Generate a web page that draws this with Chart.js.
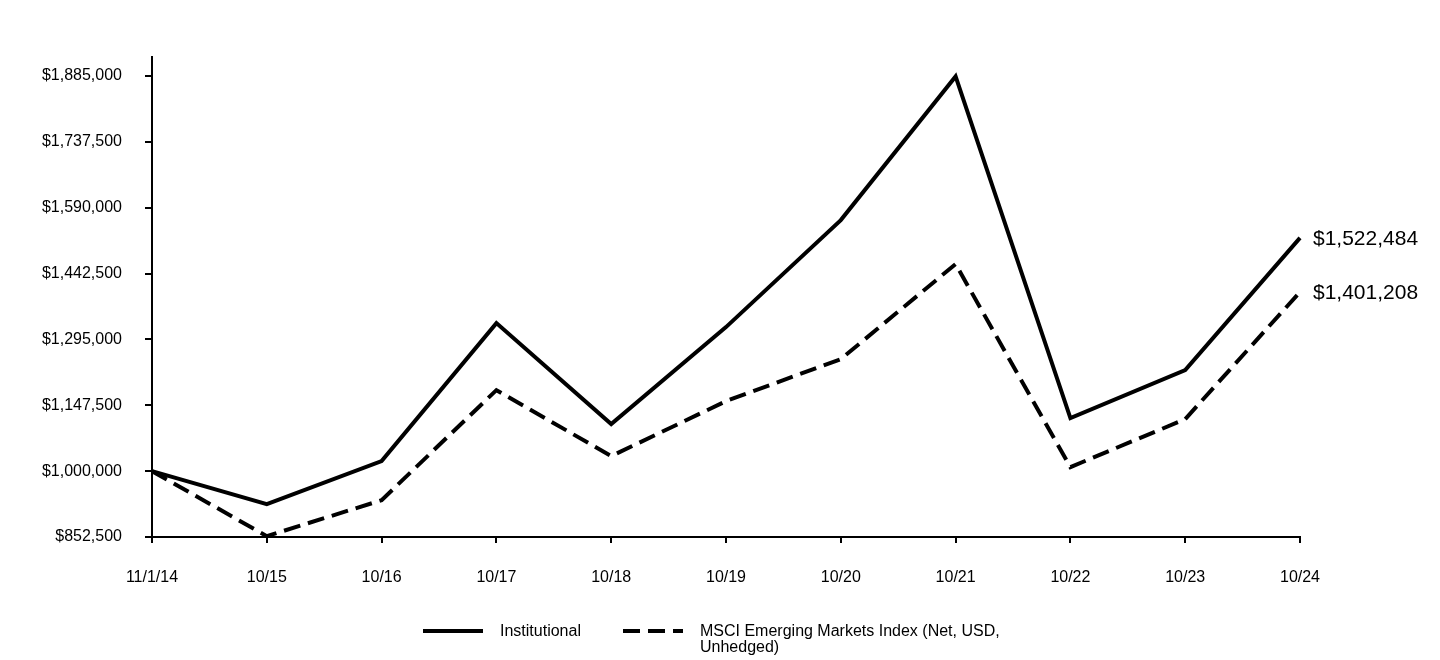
<!DOCTYPE html>
<html>
<head>
<meta charset="utf-8">
<script src="https://cdn.jsdelivr.net/npm/chart.js@4"></script>
<style>
  html, body { margin: 0; padding: 0; background: #fff; }
  #wrap { width: 1440px; height: 660px; position: relative; }
</style>
</head>
<body>
<div id="wrap"><canvas id="chart" width="1440" height="660"></canvas></div>
<script>
const periods = ["11/1/14", "10/15", "10/16", "10/17", "10/18", "10/19", "10/20", "10/21", "10/22", "10/23", "10/24"];
const institutional = [1000000, 926000, 1022400, 1331500, 1105300, 1322600, 1562200, 1884000, 1118700, 1226200, 1522484];
const msciIndex = [1000000, 854400, 935000, 1181400, 1033600, 1156800, 1250900, 1463700, 1009000, 1116500, 1401208];
const yTicks = [852500, 1000000, 1147500, 1295000, 1442500, 1590000, 1737500, 1885000];
const seriesNames = ["Institutional", "MSCI Emerging Markets Index (Net, USD, Unhedged)"];
const legendLines = [["Institutional"], ["MSCI Emerging Markets Index (Net, USD,", "Unhedged)"]];

const fontFamily = "'Liberation Sans', Arial, sans-serif";
const money = v => "$" + Math.round(v).toLocaleString("en-US");

// value labels at the end of each line + legend under the plot
const extrasPlugin = {
    id: "extras",
    afterDraw(chart) {
        const ctx = chart.ctx;
        ctx.save();
        ctx.fillStyle = "#000";
        ctx.font = "21px " + fontFamily;
        ctx.textAlign = "left";
        ctx.textBaseline = "middle";
        chart.data.datasets.forEach((ds, i) => {
            const meta = chart.getDatasetMeta(i);
            const pt = meta.data[meta.data.length - 1];
            ctx.fillText(money(ds.data[ds.data.length - 1]), pt.x + 13, pt.y + 1);
        });

        const starts = [423, 623];
        const y = 631;
        ctx.font = "16px " + fontFamily;
        chart.data.datasets.forEach((ds, i) => {
            ctx.beginPath();
            ctx.lineWidth = 4;
            ctx.strokeStyle = "#000";
            ctx.setLineDash(ds.borderDash || []);
            ctx.moveTo(starts[i], y);
            ctx.lineTo(starts[i] + 60, y);
            ctx.stroke();
            ctx.setLineDash([]);
            legendLines[i].forEach((t, k) => ctx.fillText(t, starts[i] + 77, y + 1 + k * 16));
        });
        ctx.restore();
    }
};

new Chart(document.getElementById("chart"), {
    type: "line",
    data: {
        labels: periods,
        datasets: [
            {
                label: seriesNames[0],
                data: institutional,
                borderColor: "#000",
                borderWidth: 4,
                pointRadius: 0,
                tension: 0,
                fill: false
            },
            {
                label: seriesNames[1],
                data: msciIndex,
                borderColor: "#000",
                borderWidth: 4,
                borderDash: [17, 8],
                pointRadius: 0,
                tension: 0,
                fill: false
            }
        ]
    },
    options: {
        responsive: false,
        animation: false,
        layout: { padding: { left: 0, right: 140, top: 57, bottom: 0 } },
        plugins: {
            legend: { display: false },
            tooltip: { enabled: false }
        },
        scales: {
            x: {
                offset: false,
                border: { display: true, color: "#000", width: 2 },
                grid: { display: true, drawOnChartArea: false, drawTicks: true, tickLength: 6, color: "#000", lineWidth: 2 },
                ticks: { color: "#000", font: { family: fontFamily, size: 16 }, padding: 25, maxRotation: 0, autoSkip: false },
                afterFit(scale) { scale.height = 123; }
            },
            y: {
                min: 852500,
                max: 1927500,
                border: { display: true, color: "#000", width: 2 },
                grid: { display: true, drawOnChartArea: false, drawTicks: true, tickLength: 7, color: "#000", lineWidth: 2 },
                ticks: {
                    color: "#000",
                    font: { family: fontFamily, size: 16 },
                    padding: 23,
                    callback: v => money(v)
                },
                afterBuildTicks(scale) { scale.ticks = yTicks.map(v => ({ value: v })); },
                afterFit(scale) { scale.width = 152; }
            }
        }
    },
    plugins: [extrasPlugin]
});
</script>
</body>
</html>
